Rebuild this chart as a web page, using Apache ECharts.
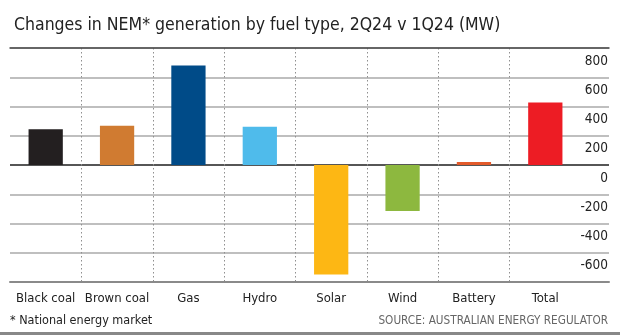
<!DOCTYPE html>
<html>
<head>
<meta charset="utf-8">
<script src="https://cdn.jsdelivr.net/npm/echarts@6/dist/echarts.min.js"></script>
<style>
  html, body { margin: 0; padding: 0; background: #fff; }
  #chart { width: 620px; height: 336px; }
</style>
</head>
<body>
<div id="chart"></div>
<script>
// Change in generation (MW), 2Q24 versus 1Q24, by fuel type
const categories = ['Black coal', 'Brown coal', 'Gas', 'Hydro', 'Solar', 'Wind', 'Battery', 'Total'];
const changeMW = [245, 268, 680, 262, -748, -315, 20, 428];
const barColors = ['#231f20', '#d07b31', '#004b88', '#4fbbeb', '#fdb714', '#8db83f', '#e35a2a', '#ed1c24'];
const yTicks = [-800, -600, -400, -200, 0, 200, 400, 600, 800];

const FONT = "'DejaVu Sans Condensed', 'Liberation Sans Narrow', 'Open Sans', sans-serif";

const chart = echarts.init(document.getElementById('chart'), null, { renderer: 'canvas' });

const gridTop = 48, gridBottom = 54;

chart.setOption({
  animation: false,
  backgroundColor: '#ffffff',
  title: {
    text: 'Changes in NEM* generation by fuel type, 2Q24 v 1Q24 (MW)',
    left: 9, top: 11,
    textStyle: { fontFamily: FONT, fontSize: 17.5, fontWeight: 'normal', color: '#222' }
  },
  grid: [
    // bars
    { left: 10, right: 39, top: gridTop, bottom: gridBottom },
    // horizontal rules and value labels, running under the label column
    { left: 10, right: 11, top: gridTop, bottom: gridBottom }
  ],
  xAxis: [
    {
      type: 'category', gridIndex: 0, data: categories,
      axisLine: { show: false }, axisTick: { show: false },
      axisLabel: { color: '#222', fontFamily: FONT, fontSize: 13, margin: 10, interval: 0 },
      splitLine: {
        show: true, showMinLine: false, showMaxLine: false,
        lineStyle: { color: '#8f8f8f', width: 1, type: [1.5, 2.5] }
      }
    },
    {
      type: 'value', gridIndex: 1, min: 0, max: 1, show: true,
      axisLabel: { show: false }, axisTick: { show: false }, splitLine: { show: false },
      axisLine: { show: true, onZero: false, lineStyle: { color: '#8a8a8a', width: 2 } }
    },
    {
      type: 'value', gridIndex: 1, min: 0, max: 1, position: 'top', show: true,
      axisLabel: { show: false }, axisTick: { show: false }, splitLine: { show: false },
      axisLine: { show: true, onZero: false, lineStyle: { color: '#4a4a4a', width: 1.5 } }
    }
  ],
  yAxis: [
    {
      type: 'value', gridIndex: 0, min: -800, max: 800, interval: 200,
      show: false, splitLine: { show: false }
    },
    {
      type: 'value', gridIndex: 1, min: -800, max: 800, interval: 200,
      position: 'right',
      axisLine: { show: false }, axisTick: { show: false },
      axisLabel: {
        inside: true, margin: 1, align: 'right', verticalAlign: 'top',
        padding: [6, 0, 0, 0],
        color: '#222', fontFamily: FONT, fontSize: 13.5,
        formatter: v => (yTicks.includes(v) && v !== -800 ? String(v) : '')
      },
      splitLine: {
        show: true,
        lineStyle: {
          color: ['#aaaaaa', '#aaaaaa', '#aaaaaa', '#aaaaaa', '#1e1e1e', '#aaaaaa', '#aaaaaa', '#aaaaaa', '#aaaaaa'],
          width: 1.5
        }
      }
    }
  ],
  series: [
    {
      type: 'bar', xAxisIndex: 0, yAxisIndex: 0, z: 5,
      barWidth: '48%',
      data: changeMW.map((v, i) => ({ value: v, itemStyle: { color: barColors[i] } }))
    }
  ],
  graphic: [
    {
      type: 'text', left: 10, top: 314,
      style: { text: '* National energy market', fontFamily: FONT, fontSize: 12.5, fill: '#222' }
    },
    {
      type: 'text', right: 12, top: 315,
      style: { text: 'SOURCE: AUSTRALIAN ENERGY REGULATOR', fontFamily: FONT, fontSize: 11.7, fill: '#666' }
    },
    {
      type: 'rect', left: 0, top: 332,
      shape: { width: 620, height: 3 },
      style: { fill: '#888' }
    }
  ]
});
</script>
</body>
</html>
